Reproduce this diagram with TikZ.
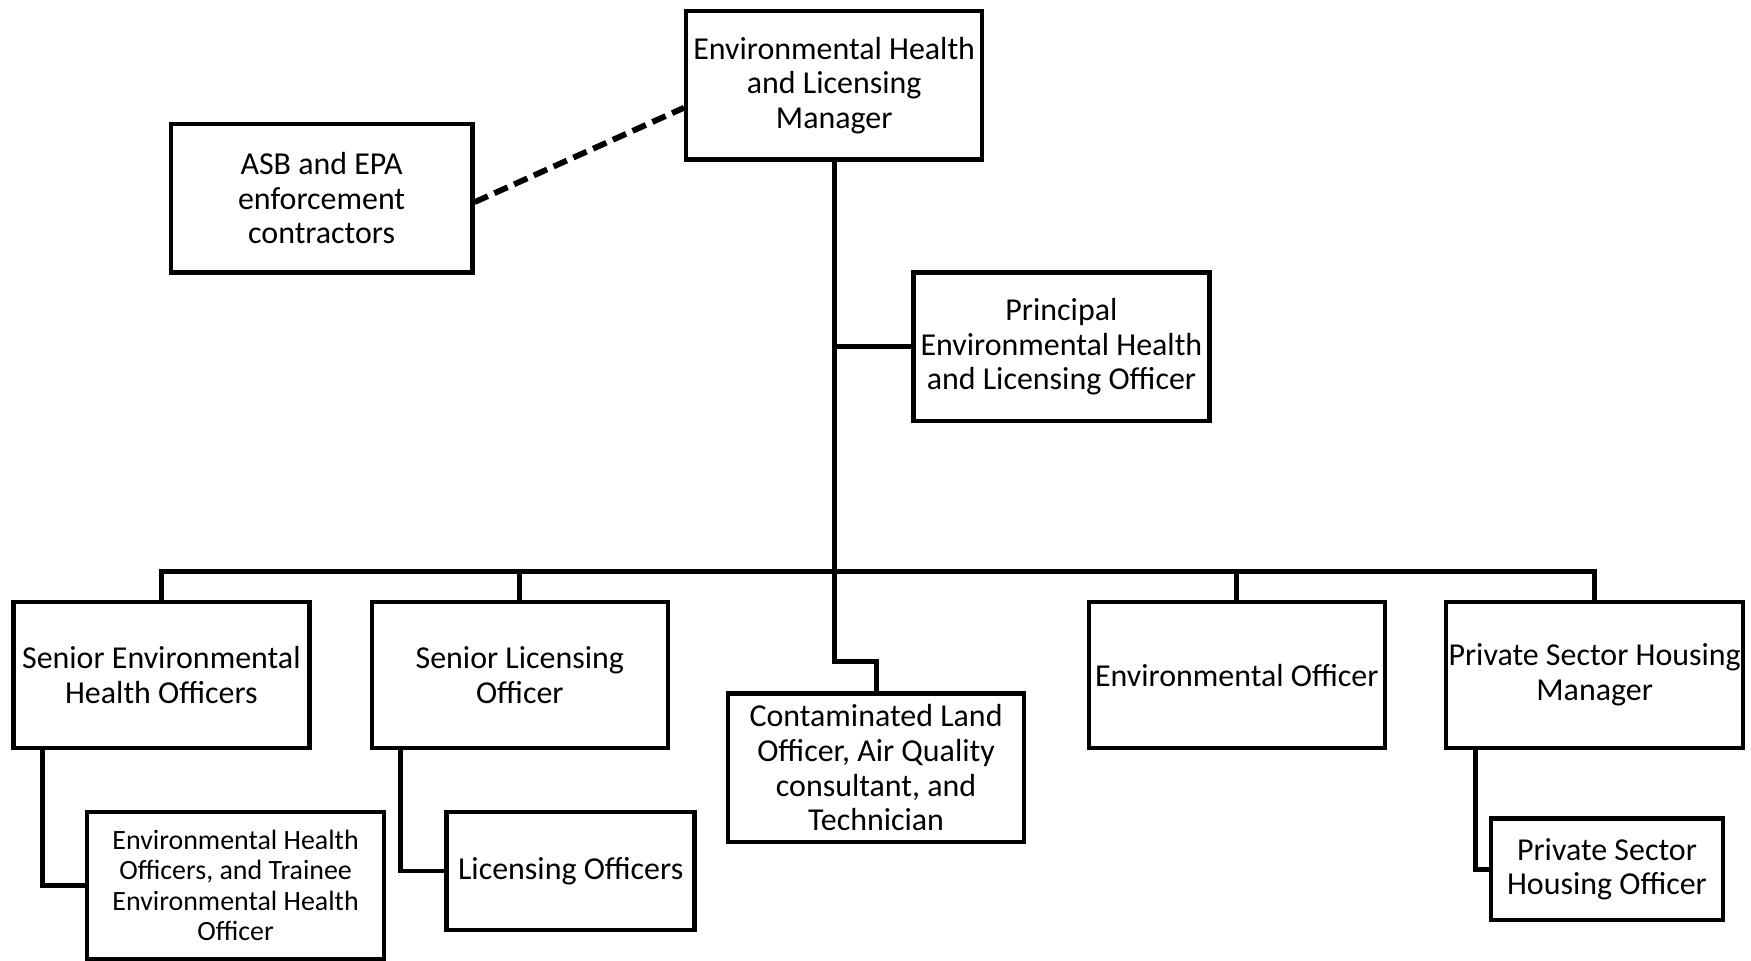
\documentclass[tikz,border=0pt]{standalone}
\usepackage{fontspec}
\setmainfont{Carlito}
\usetikzlibrary{calc}

\tikzset{
  orgbox/.style = {draw, line width = 2pt, minimum width = 132.5pt, minimum height = 66.5pt,
                   align = center, inner sep = 0pt, font = \fontsize{14.3}{15.5}\selectfont},
  subbox/.style = {orgbox, font = \fontsize{12.5}{13.6}\selectfont},
  conn/.style   = {line width = 2.2pt, line cap = rect, line join = miter},
  dotline/.style = {line width = 2.6pt, line cap = butt, dash pattern = on 6.5pt off 3.2pt}
}

\begin{document}
\begin{tikzpicture}[x = 0.5pt, y = -0.5pt]
\useasboundingbox (0,0) rectangle (1568,860);

% top of the tree
\node[orgbox] (mgr)  at (747,76.5)  {Environmental Health\\and Licensing\\Manager};
\node[orgbox, minimum width = 135pt] (asb) at (288,177.5) {ASB and EPA\\enforcement\\contractors};
\node[orgbox] (peho) at (950.5,310.5) {Principal\\Environmental Health\\and Licensing Officer};

% second row
\node[orgbox, minimum height = 65.5pt] (seho) at (144.5,604.5)  {Senior Environmental\\Health Officers};
\node[orgbox, minimum height = 65.5pt] (slo)  at (465.5,604.5)  {Senior Licensing\\Officer};
\node[orgbox] (clo)  at (784.5,687.5)  {Contaminated Land\\Officer, Air Quality\\consultant, and\\Technician};
\node[orgbox, minimum height = 65.5pt] (envo) at (1107.5,604.5) {Environmental Officer};
\node[orgbox, minimum height = 65.5pt, minimum width = 133pt] (pshm) at (1428,604.5) {Private Sector Housing\\Manager};

% third row
\node[subbox, minimum width = 133pt, minimum height = 66pt] (ehot) at (211,793) {Environmental Health\\Officers, and Trainee\\Environmental Health\\Officer};
\node[orgbox, minimum width = 111pt, minimum height = 53pt] (lo) at (511,780) {Licensing Officers};
\node[orgbox, minimum width = 104pt, minimum height = 45.5pt] (psho) at (1439,778.5) {Private Sector\\Housing Officer};

% helper points
\coordinate (bus)  at (747,512);
\coordinate (bend) at (747,592);

% connectors
\draw[dotline] ([yshift = -1.75pt]asb.east) -- ([yshift = -10pt]mgr.west);
\draw[conn] (mgr.south) -- (mgr.south |- bend) -| (clo.north);
\draw[conn] (peho.west) -- (peho.west -| mgr.south);
\draw[conn] (seho.north) |- (bus) -| (pshm.north);
\draw[conn] (slo.north) -- (slo.north |- bus);
\draw[conn] (envo.north) -- (envo.north |- bus);

% sub-branches
\draw[conn] ([xshift = 14pt]seho.south west) |- (ehot.west);
\draw[conn] ([xshift = 14pt]slo.south west) |- (lo.west);
\draw[conn] ([xshift = 14pt]pshm.south west) |- (psho.west);

\end{tikzpicture}
\end{document}
